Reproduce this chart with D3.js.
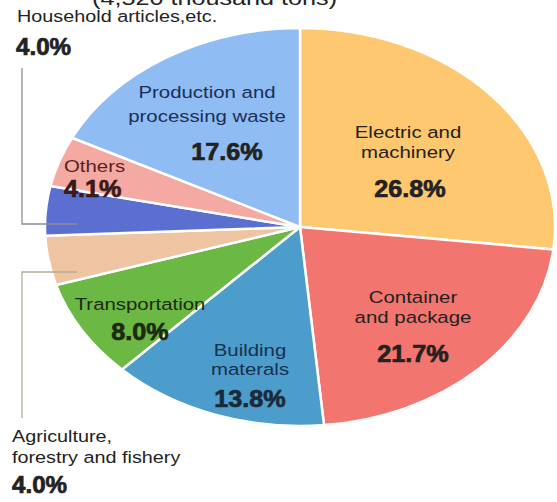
<!DOCTYPE html>
<html lang="en">
<head>
<meta charset="utf-8">
<title>Waste by source</title>
<script src="https://cdn.jsdelivr.net/npm/d3@7"></script>
<style>
  body { margin: 0; background: #fff; }
  text { font-family: "Liberation Sans", Arial, sans-serif; }
  .pct { font-weight: bold; }
</style>
</head>
<body>
<svg width="557" height="502"></svg>
<script>
// data, clockwise from 12 o'clock
var categories = ["Electric and machinery", "Container and package", "Building materals",
  "Transportation", "Agriculture, forestry and fishery", "Household articles,etc.",
  "Others", "Production and processing waste"];
var values = [26.8, 21.7, 13.8, 8.0, 4.0, 4.0, 4.1, 17.6];
var colors = ["#fdc86f", "#f27570", "#4c9dcb", "#6cb844", "#eec4a2", "#5b6fd1", "#f4aaa2", "#8fbcf3"];
var title = "(4,520 thousand tons)";

// chart geometry
var cx = 300, cy = 227, ry = 199, rx = 255;

var svg = d3.select("svg");

var pie = d3.pie().sort(null).value(function(d) { return d; });
var arc = d3.arc().innerRadius(0).outerRadius(ry);

var g = svg.append("g")
    .attr("transform", "translate(" + cx + "," + cy + ") scale(" + (rx / ry) + ",1)");

g.selectAll("path")
    .data(pie(values))
  .enter().append("path")
    .attr("d", arc)
    .attr("fill", function(d, i) { return colors[i]; })
    .attr("stroke", "#fff")
    .attr("stroke-width", 2.5)
    .style("vector-effect", "non-scaling-stroke");

// leader lines for the two small outside labels
svg.append("path")
    .attr("d", "M22,68V224H77")
    .attr("fill", "none")
    .attr("stroke", "#8a8f9a")
    .attr("stroke-width", 1.3);
svg.append("path")
    .attr("d", "M77,272H22V418")
    .attr("fill", "none")
    .attr("stroke", "#b5ab98")
    .attr("stroke-width", 1.3);

// text helper: horizontally stretched text like the source image
function label(txt, x, y, size, opts) {
  opts = opts || {};
  var sx = opts.sx || 1.2;
  svg.append("text")
      .attr("class", opts.bold ? "pct" : null)
      .attr("transform", "translate(" + x + "," + y + ") scale(" + sx + ",1)")
      .attr("text-anchor", opts.anchor || "middle")
      .attr("font-size", size)
      .attr("fill", opts.fill || "#222")
      .attr("stroke", opts.bold ? (opts.fill || "#222") : null)
      .attr("stroke-width", opts.bold ? 0.7 : null)
      .text(txt);
}

function pct(v) { return v.toFixed(1) + "%"; }

label(title, 92, 5, 21, {anchor: "start"});

// outside labels
label("Household articles,etc.", 17, 22, 16.5, {anchor: "start"});
label(pct(values[5]), 16, 55, 23, {anchor: "start", bold: true, sx: 1.05});
label("Agriculture,", 12, 442, 16.5, {anchor: "start"});
label("forestry and fishery", 12, 463, 16.5, {anchor: "start"});
label(pct(values[4]), 12, 493, 23, {anchor: "start", bold: true, sx: 1.05});

// inside labels
label("Electric and", 408, 138, 17);
label("machinery", 408, 158, 17);
label(pct(values[0]), 410, 197, 24, {bold: true, sx: 1.05});

label("Container", 413, 303, 17);
label("and package", 413, 323, 17);
label(pct(values[1]), 413, 362, 24, {bold: true, sx: 1.05});

label("Building", 250, 356, 17, {fill: "#18304e"});
label("materals", 250, 375, 17, {fill: "#18304e"});
label(pct(values[2]), 250, 407, 24, {bold: true, sx: 1.05, fill: "#1b2a3a"});

label("Transportation", 140, 310, 17, {fill: "#1d2a12"});
label(pct(values[3]), 140, 340, 24, {bold: true, sx: 1.05, fill: "#1d2a12"});

label("Others", 64, 172, 17, {anchor: "start", fill: "#5a1e1e"});
label(pct(values[6]), 64, 197, 24, {anchor: "start", bold: true, sx: 1.05, fill: "#3a1a18"});

label("Production and", 207, 98, 17, {fill: "#1b2f55"});
label("processing waste", 207, 122, 17, {fill: "#1b2f55"});
label(pct(values[7]), 227, 160, 24, {bold: true, sx: 1.05});
</script>
</body>
</html>
